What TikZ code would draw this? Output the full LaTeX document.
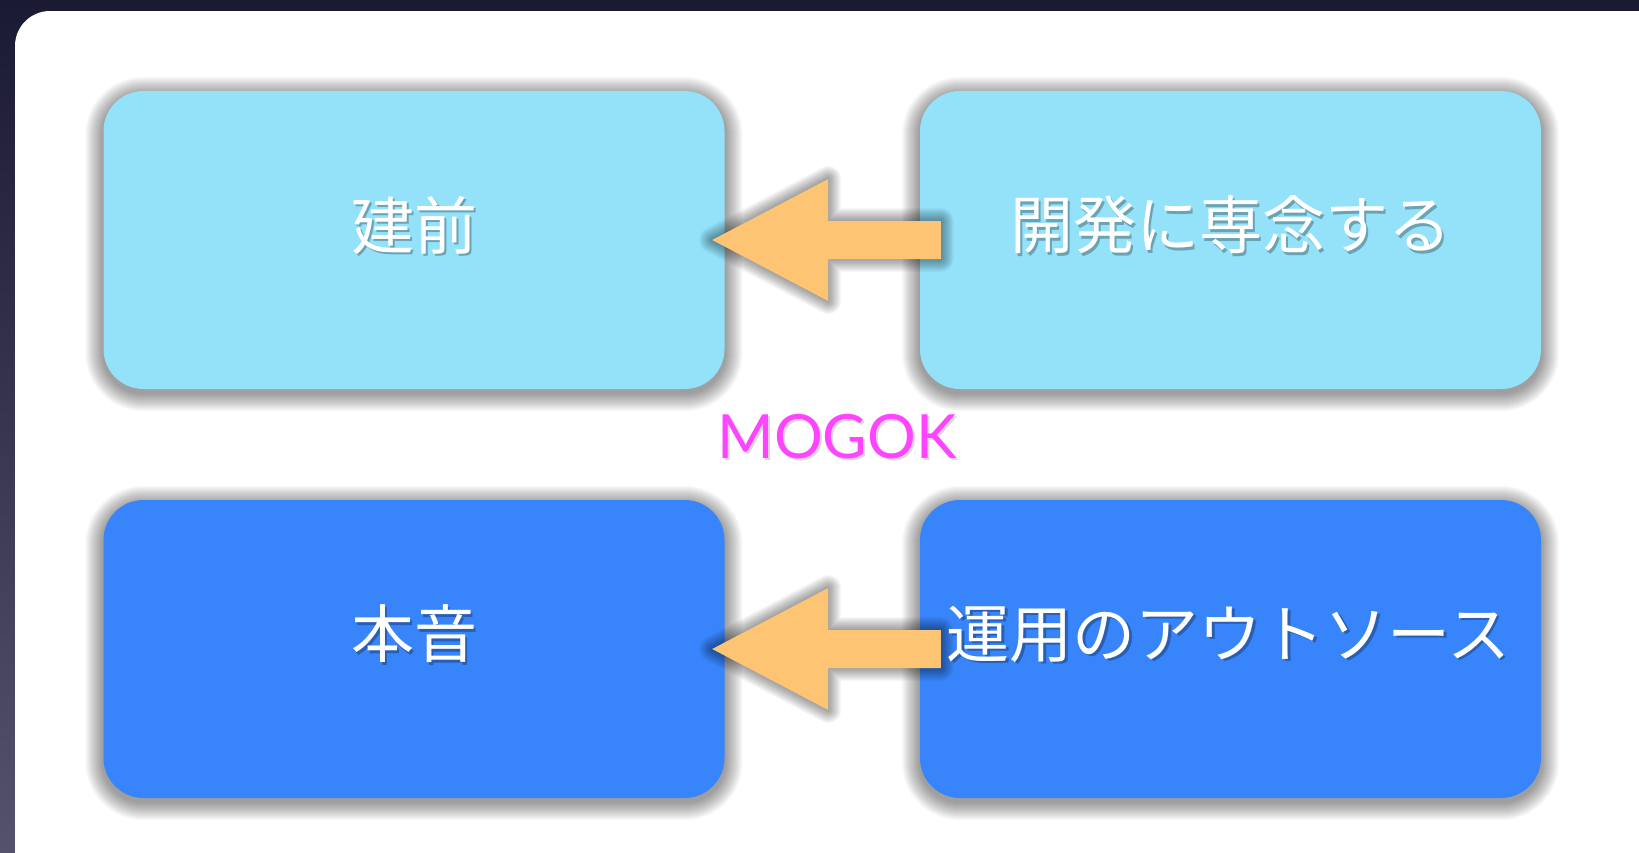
\documentclass[tikz,border=0pt]{standalone}
\usepackage{fontspec}
\newfontfamily\jpfont{Noto Sans CJK JP}
\newfontfamily\latfont{Lato}
\usetikzlibrary{calc}
\definecolor{bgtop}{HTML}{1B1A33}
\definecolor{bgbot}{HTML}{55536B}
\definecolor{lightbox}{HTML}{94E2FA}
\definecolor{darkbox}{HTML}{3885FB}
\definecolor{arrowfill}{HTML}{FDC473}
\definecolor{mogokpink}{HTML}{FF44FF}
\pgfdeclarelayer{backlayer}
\pgfdeclarelayer{shadowlayer}
\pgfsetlayers{backlayer,shadowlayer,main}
\newcommand\cardshade[1]{%
  \foreach \e in {1,...,18}{%
    \fill[black, opacity=0.024, rounded corners=40+\e]
      ($(#1.north west)+(-\e,-\e+4)$) rectangle ($(#1.south east)+(\e,\e+4)$);
  }}
\begin{document}
\begin{tikzpicture}[x=1pt,y=-1pt,
  card/.style={rounded corners=40pt, minimum width=621pt, minimum height=298pt, inner sep=0pt},
  lightcard/.style={card, fill=lightbox},
  darkcard/.style={card, fill=darkbox},
  cardtext/.style={text=white, font=\jpfont\fontsize{63}{70}\selectfont, inner sep=0pt},
  cardshadow/.style={text=black, opacity=0.28, font=\jpfont\fontsize{63}{70}\selectfont, inner sep=0pt},
  blockarrow/.style={fill=arrowfill},
  mogokstyle/.style={text=mogokpink, font=\latfont\fontsize{61}{66}\selectfont, inner sep=0pt}
]
\useasboundingbox (0,0) rectangle (1639,852);
\begin{pgfonlayer}{backlayer}
\shade[top color=bgtop, bottom color=bgbot] (0,0) rectangle (1639,852);
\fill[white, rounded corners=35pt] (15,11) rectangle (1675,890);
\end{pgfonlayer}

\node[lightcard] (tl) at (414,240) {};
\node[lightcard] (tr) at (1230.5,240) {};
\node[darkcard] (bl) at (414,649) {};
\node[darkcard] (br) at (1230.5,649) {};

\begin{pgfonlayer}{shadowlayer}
\cardshade{tl}
\cardshade{tr}
\cardshade{bl}
\cardshade{br}
\end{pgfonlayer}

% arrows
\path[save path=\toparrow] ($(tl.east)+(-12.5,0)$) -- ($(tl.east)+(103.5,-61)$) -- ($(tl.east)+(103.5,-19)$)
  -- ($(tr.west)+(21,-19)$) -- ($(tr.west)+(21,19)$) -- ($(tl.east)+(103.5,19)$)
  -- ($(tl.east)+(103.5,61)$) -- cycle;
\path[save path=\botarrow] ($(bl.east)+(-12.5,0)$) -- ($(bl.east)+(103.5,-61)$) -- ($(bl.east)+(103.5,-19)$)
  -- ($(br.west)+(21,-19)$) -- ($(br.west)+(21,19)$) -- ($(bl.east)+(103.5,19)$)
  -- ($(bl.east)+(103.5,61)$) -- cycle;
\begin{scope}[yshift=-3pt]
\foreach \w in {2,4,...,26}{
  \draw[black, opacity=0.03, line width=\w pt, line join=round, use path=\toparrow];
  \draw[black, opacity=0.03, line width=\w pt, line join=round, use path=\botarrow];
}
\end{scope}
\fill[blockarrow, use path=\toparrow];
\fill[blockarrow, use path=\botarrow];

% text shadows
\node[cardshadow] (tls) at ($(tl.center)+(2.5,-12.5)$) {建前};
\node[cardshadow] (trs) at ($(tr.center)+(2.5,-12.5)$) {開発に専念する};
\node[cardshadow] (bls) at ($(bl.center)+(2.5,-12.5)$) {本音};
\node[cardshadow] (brs) at ($(br.center)+(0.5,-12.5)$) {運用のアウトソース};
% texts
\node[cardtext] (tlt) at ($(tl.center)+(0,-15)$) {建前};
\node[cardtext] (trt) at ($(tr.center)+(0,-15)$) {開発に専念する};
\node[cardtext] (blt) at ($(bl.center)+(0,-15)$) {本音};
\node[cardtext] (brt) at ($(br.center)+(-2,-15)$) {運用のアウトソース};

\node[mogokstyle, text=black, opacity=0.15] (mogoks) at (839,439) {MOGOK};
\node[mogokstyle] (mogok) at (837,437) {MOGOK};
\end{tikzpicture}
\end{document}
